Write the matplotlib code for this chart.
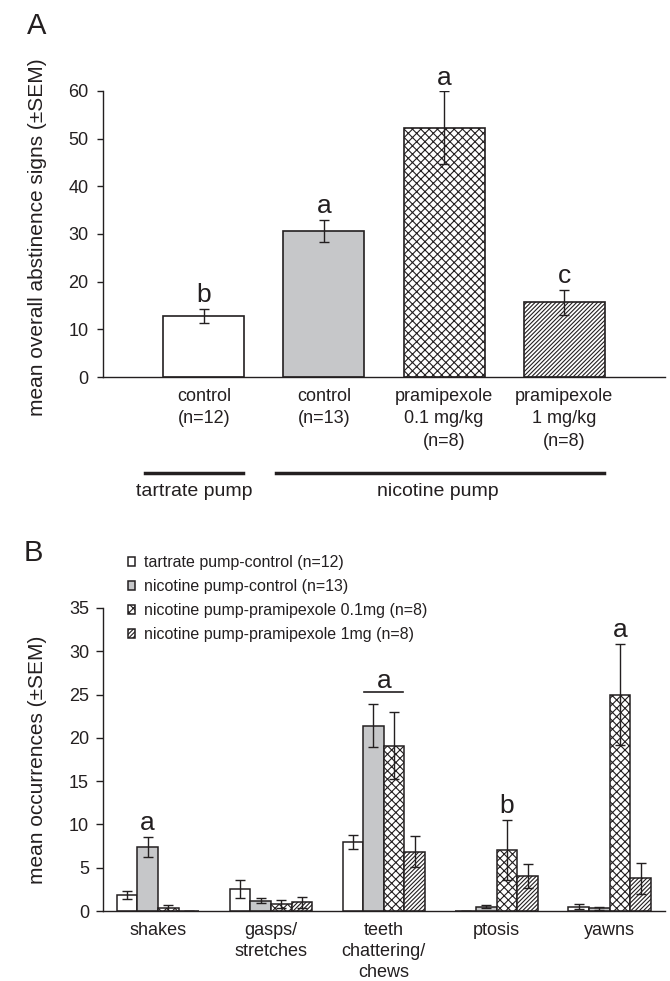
import matplotlib
matplotlib.use('Agg')
import matplotlib.pyplot as plt
import numpy as np

plt.rcParams['font.family'] = ['Liberation Sans', 'DejaVu Sans']
plt.rcParams['hatch.linewidth'] = 0.8
plt.rcParams['hatch.color'] = '#231f20'

# panel A: overall abstinence signs
a_labels = ['control\n(n=12)', 'control\n(n=13)',
            'pramipexole\n0.1 mg/kg\n(n=8)', 'pramipexole\n1 mg/kg\n(n=8)']
a_means = [12.8, 30.6, 52.3, 15.7]
a_sem = [1.4, 2.3, 7.6, 2.6]
a_letters = ['b', 'a', 'a', 'c']

# panel B: individual signs
b_signs = ['shakes', 'gasps/\nstretches', 'teeth\nchattering/\nchews', 'ptosis', 'yawns']
b_series = ['tartrate pump-control (n=12)', 'nicotine pump-control (n=13)',
            'nicotine pump-pramipexole 0.1mg (n=8)', 'nicotine pump-pramipexole 1mg (n=8)']
tart_ctrl = [1.85, 2.5, 8.0, 0.0, 0.5]
tart_ctrl_sem = [0.5, 1.05, 0.8, 0.0, 0.3]
nic_ctrl = [7.35, 1.2, 21.4, 0.5, 0.3]
nic_ctrl_sem = [1.15, 0.3, 2.5, 0.2, 0.15]
nic_p01 = [0.35, 0.85, 19.1, 7.05, 25.0]
nic_p01_sem = [0.35, 0.45, 3.85, 3.45, 5.8]
nic_p1 = [0.0, 1.0, 6.85, 4.05, 3.8]
nic_p1_sem = [0.0, 0.65, 1.8, 1.4, 1.8]
# (sign index, series index, letter)
b_letters = [(0, 1, 'a'), (3, 2, 'b'), (4, 2, 'a')]

fills = ['white', '#c6c7c9', 'white', 'white']
hatches = [None, None, 'xxxx', '////////']
ink = '#231f20'

fig = plt.figure(figsize=(6.7, 9.81), dpi=100)
ax_a = fig.add_axes([103/670, 1-377/981, 562/670, 286/981])
ax_b = fig.add_axes([103/670, 1-911/981, 562/670, 303/981])

# ---- panel A
x = np.arange(len(a_means))
bars = ax_a.bar(x, a_means, width=0.675, color=fills, edgecolor=ink, linewidth=1.2)
for b, h in zip(bars, hatches):
    if h:
        b.set_hatch(h)
ax_a.errorbar(x, a_means, yerr=a_sem, fmt='none', ecolor=ink, elinewidth=1,
              capsize=3.6, capthick=1)
for i, let in enumerate(a_letters):
    ax_a.annotate(let, (x[i], a_means[i] + a_sem[i]), xytext=(0, 5),
                  textcoords='offset points', ha='center', va='baseline',
                  fontsize=19, color=ink)

ax_a.set_xlim(-0.84, 3.84)
ax_a.set_ylim(0, 60)
ax_a.set_yticks(range(0, 61, 10))
ax_a.set_xticks(x)
ax_a.set_xticklabels(a_labels, fontsize=13, linespacing=1.4, color=ink)
ax_a.tick_params(axis='x', length=0, pad=8)
ax_a.tick_params(axis='y', length=4.3, width=1, labelsize=13, pad=6, colors=ink)
ax_a.set_ylabel('mean overall abstinence signs (±SEM)', fontsize=15, color=ink)
ax_a.yaxis.set_label_coords(-0.1, 0.49)

# pump group bars under panel A
tr = ax_a.get_xaxis_transform()
ax_a.plot([-0.49, 0.325], [-0.336, -0.336], transform=tr, color=ink, lw=2.5, clip_on=False)
ax_a.plot([0.6, 3.33], [-0.336, -0.336], transform=tr, color=ink, lw=2.5, clip_on=False)
ax_a.text(-0.083, -0.402, 'tartrate pump', transform=tr, ha='center', va='center',
          fontsize=14, color=ink)
ax_a.text(1.95, -0.402, 'nicotine pump', transform=tr, ha='center', va='center',
          fontsize=14, color=ink)

# ---- panel B
groups = np.arange(len(b_signs))
w = 0.183
offsets = (np.arange(4) - 1.5) * w
vals = [tart_ctrl, nic_ctrl, nic_p01, nic_p1]
sems = [tart_ctrl_sem, nic_ctrl_sem, nic_p01_sem, nic_p1_sem]
handles = []
for s in range(4):
    bb = ax_b.bar(groups + offsets[s], vals[s], width=w, color=fills[s], edgecolor=ink,
                  linewidth=1.1, label=b_series[s])
    if hatches[s]:
        for b in bb:
            b.set_hatch(hatches[s])
    ax_b.errorbar(groups + offsets[s], vals[s], yerr=sems[s], fmt='none', ecolor=ink,
                  elinewidth=1, capsize=3.7, capthick=1)
    handles.append(bb)

for g, s, let in b_letters:
    ax_b.annotate(let, (groups[g] + offsets[s], vals[s][g] + sems[s][g]), xytext=(0, 5),
                  textcoords='offset points', ha='center', va='baseline',
                  fontsize=19, color=ink)
# bracket over teeth chattering (nicotine control and 0.1mg)
ax_b.plot([groups[2] - 0.18, groups[2] + 0.17], [25.3, 25.3], color=ink, lw=1.2)
ax_b.annotate('a', (groups[2], 25.3), xytext=(0, 3), textcoords='offset points',
              ha='center', va='baseline', fontsize=19, color=ink)

ax_b.set_xlim(-0.487, 4.49)
ax_b.set_ylim(0, 35)
ax_b.set_yticks(range(0, 36, 5))
ax_b.set_xticks(groups)
ax_b.set_xticklabels(b_signs, fontsize=13, linespacing=1.3, color=ink)
ax_b.tick_params(axis='x', length=0, pad=8)
ax_b.tick_params(axis='y', length=5, width=1, labelsize=13, pad=5, colors=ink)
ax_b.set_ylabel('mean occurrences (±SEM)', fontsize=15, color=ink)
ax_b.yaxis.set_label_coords(-0.1, 0.5)

ax_b.legend(handles, b_series, loc='upper left', bbox_to_anchor=(128/670, 1-555/981),
            bbox_transform=fig.transFigure, frameon=False, fontsize=11.5,
            handlelength=0.45, handleheight=0.45, handletextpad=0.55,
            labelspacing=0.57, borderpad=0, borderaxespad=0, labelcolor=ink)

for ax in (ax_a, ax_b):
    for side in ('top', 'right'):
        ax.spines[side].set_visible(False)
    for side in ('left', 'bottom'):
        ax.spines[side].set_color(ink)
        ax.spines[side].set_linewidth(1)

fig.text(37/670, 1-26/981, 'A', fontsize=21, ha='center', va='center', color=ink)
fig.text(33/670, 1-553/981, 'B', fontsize=21, ha='center', va='center', color=ink)

fig.savefig('out.png', dpi=100)
